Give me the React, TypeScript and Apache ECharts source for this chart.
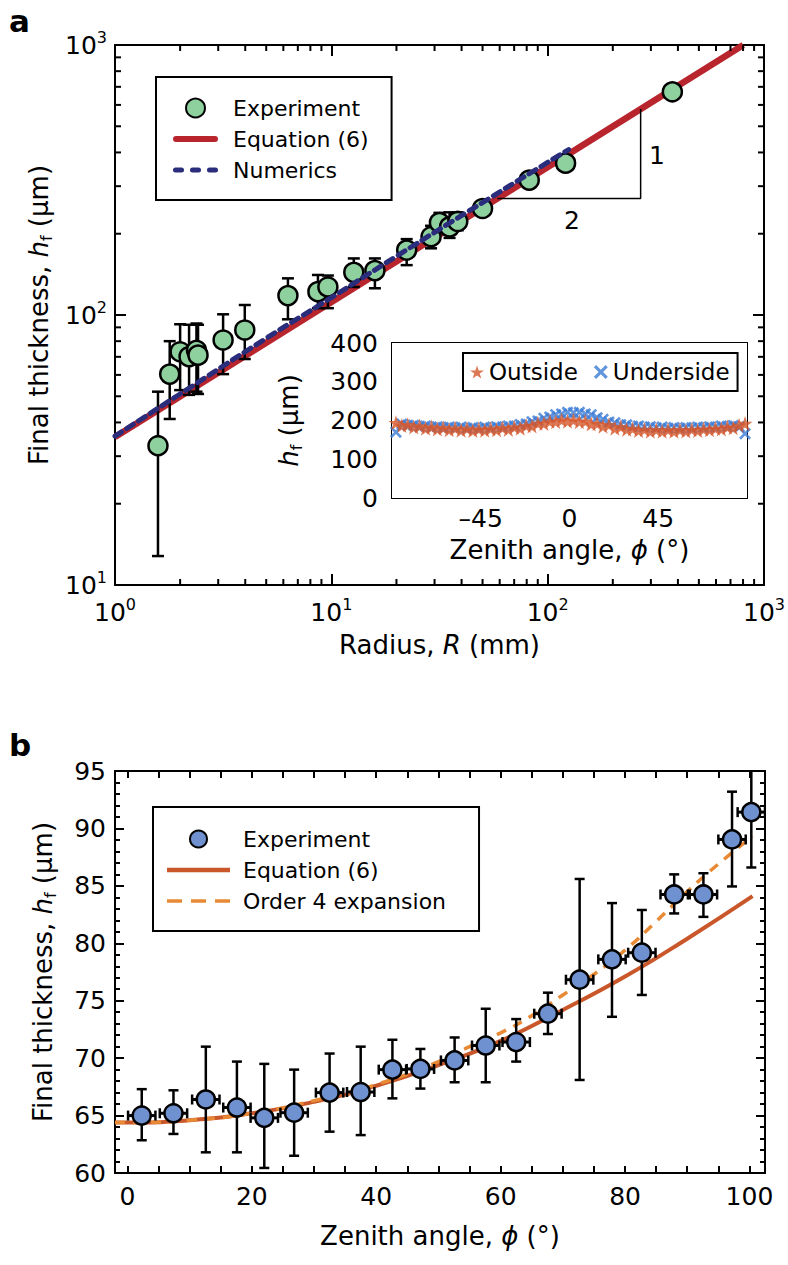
import React, { useEffect, useRef } from "react";
import * as echarts from "echarts";

const FONT = "'DejaVu Sans', 'Liberation Sans', sans-serif";
const BLACK = "#000";

// ---------- Panel a : final thickness vs radius (log-log) ----------
const expR = [1.58, 1.79, 2.0, 2.2, 2.38, 2.42, 3.16, 3.98, 6.3, 8.67, 9.64, 12.7, 15.9, 22.3, 28.9, 31.6, 35.2, 38.4, 50, 82.2, 121, 377];
const expH = [32.8, 60.4, 73.1, 70.1, 74, 71, 80.8, 88, 118, 122, 127, 143.9, 146, 174, 195, 220, 212, 222, 248, 316, 365, 671];
const expLo = [12.8, 41.2, 52.7, 50.6, 52, 51, 60.4, 68.7, 96.4, 106, 106, 127, 125.6, 153, 176.6, 204, 193, 206, 240, null, null, null];
const expHi = [52, 80, 92.4, 92, 93, 92, 100.6, 108.9, 136.7, 140.7, 140, 162, 162, 191, 214, 239, 240, 240, 258, null, null, null];

const eqR = [1, 802];
const eqH = [35.3, 1000];

const numR = [1, 2, 5, 10, 20, 50, 125];
const numH = [35.6, 51, 82, 116, 165, 261, 410];

const triR = [58.5, 269, 269];
const triH = [270, 270, 579];

const logMinorX = [2, 3, 4, 5, 6, 7, 8, 9, 20, 30, 40, 50, 60, 70, 80, 90, 200, 300, 400, 500, 600, 700, 800, 900];
const logMinorY = [20, 30, 40, 50, 60, 70, 80, 90, 200, 300, 400, 500, 600, 700, 800, 900];

// ---------- Inset : h_f vs zenith angle ----------
const insetPhi = [-88, -85, -82, -79, -76, -73, -70, -67, -64, -61, -58, -55, -52, -49, -46, -43, -40, -37, -34, -31, -28, -25, -22, -19, -16, -13, -10, -7, -4, -1, 2, 5, 8, 11, 14, 17, 20, 23, 26, 29, 32, 35, 38, 41, 44, 47, 50, 53, 56, 59, 62, 65, 68, 71, 74, 77, 80, 83, 86, 89];
const outsideH = [194, 187, 189, 183, 186, 180, 183, 178, 181, 176, 180, 175, 179, 174, 178, 175, 179, 176, 181, 177, 183, 180, 187, 186, 193, 192, 198, 197, 201, 198, 201, 197, 198, 191, 192, 185, 189, 180, 184, 177, 179, 174, 177, 172, 176, 172, 176, 172, 176, 173, 177, 174, 178, 176, 180, 178, 183, 181, 188, 192];
const undersideH = [170, 191, 188, 188, 185, 186, 183, 184, 182, 183, 181, 183, 180, 182, 180, 183, 181, 184, 183, 186, 186, 190, 191, 197, 199, 206, 209, 215, 217, 221, 220, 221, 217, 215, 207, 203, 196, 194, 189, 189, 185, 186, 183, 184, 181, 183, 180, 182, 180, 182, 181, 183, 182, 184, 183, 186, 185, 187, 184, 166];

// ---------- Panel b : h_f vs zenith angle ----------
const phiB = [2.3, 7.4, 12.6, 17.6, 22.0, 26.8, 32.5, 37.5, 42.6, 47.1, 52.6, 57.6, 62.5, 67.6, 72.7, 77.9, 82.7, 87.9, 92.6, 97.2, 100.3];
const hB = [65.0, 65.2, 66.4, 65.7, 64.8, 65.25, 67.0, 67.05, 69.0, 69.06, 69.8, 71.1, 71.4, 73.87, 76.83, 78.6, 79.18, 84.25, 84.25, 89.04, 91.42];
const hBLo = [62.85, 63.4, 61.8, 61.8, 60.44, 61.5, 63.6, 63.3, 66.5, 67.35, 67.9, 67.9, 69.7, 72.1, 68.1, 73.6, 75.5, 82.6, 82.3, 84.95, 86.6];
const hBHi = [67.3, 67.2, 71.0, 69.7, 69.5, 69.0, 70.4, 71.0, 71.6, 70.8, 71.8, 74.3, 73.4, 75.7, 85.6, 83.5, 82.9, 86.0, 86.1, 93.2, 95.1];
const phiBErr = [2.2, 2.2, 2.2, 2.2, 2.2, 2.2, 2.2, 2.2, 2.2, 2.2, 2.2, 2.2, 2.2, 2.2, 2.2, 2.2, 2.2, 2.2, 2.2, 2.2, 2.2];

const eqPhi = [-2, 0, 10, 20, 30, 40, 50, 60, 70, 80, 90, 100.5];
const eqHb = [64.4, 64.4, 64.6, 65.2, 66.2, 67.6, 69.4, 71.5, 74.2, 77.1, 80.4, 84.1];

const ordPhi = [-2, 0, 10, 20, 30, 40, 50, 55, 60, 65, 70, 75, 80, 85, 90, 95, 100.5];
const ordHb = [64.4, 64.4, 64.6, 65.2, 66.3, 67.7, 69.7, 71.0, 72.2, 73.7, 75.5, 77.3, 79.4, 81.9, 84.5, 86.9, 89.3];

const xTicksB = [0, 5, 10, 15, 20, 25, 30, 35, 40, 45, 50, 55, 60, 65, 70, 75, 80, 85, 90, 95, 100];
const xLabelsB = [0, 20, 40, 60, 80, 100];

// ---------- styling ----------
const GREEN = "#8fd19e";
const RED = "#b8252d";
const NAVY = "#2a2c7c";
const ORANGE_STAR = "#d4562b";
const BLUE_X = "#3a7bd5";
const BLUE_PT = "#7091d0";
const EQ_B = "#c9572a";
const ORD_B = "#e88a35";

const STAR = "path://M50,0 L61.8,35.4 L99,35.4 L69,57.3 L80.4,92.7 L50,70.8 L19.6,92.7 L31,57.3 L1,35.4 L38.2,35.4 Z";
const CROSS = "path://M0,1.6 L1.6,0 L5,3.4 L8.4,0 L10,1.6 L6.6,5 L10,8.4 L8.4,10 L5,6.6 L1.6,10 L0,8.4 L3.4,5 Z";

// legend icons (line samples)
const ICON_THICK = "path://M3,0 L42,0 A3,3 0 0 1 42,6 L3,6 A3,3 0 0 1 3,0 Z";
const ICON_DOTS =
  "path://M2.5,0 L8.5,0 A2.5,2.5 0 0 1 8.5,5 L2.5,5 A2.5,2.5 0 0 1 2.5,0 Z " +
  "M19.5,0 L25.5,0 A2.5,2.5 0 0 1 25.5,5 L19.5,5 A2.5,2.5 0 0 1 19.5,0 Z " +
  "M36.5,0 L42.5,0 A2.5,2.5 0 0 1 42.5,5 L36.5,5 A2.5,2.5 0 0 1 36.5,0 Z";
const ICON_SOLID_B = "path://M0,0 L63,0 L63,4.5 L0,4.5 Z";
const ICON_DASH_B = "path://M0,0 L15,0 L15,3.5 L0,3.5 Z M24,0 L39,0 L39,3.5 L24,3.5 Z M48,0 L63,0 L63,3.5 L48,3.5 Z";

const TICK_FS = 25;
const NAME_FS = 26;
const tickLabelStyle = { color: BLACK, fontFamily: FONT, fontSize: TICK_FS };
const nameRich = {
  i: { fontStyle: "italic", fontSize: NAME_FS, lineHeight: 30, fontFamily: FONT, color: BLACK },
  sub: { fontSize: 16, lineHeight: 16, verticalAlign: "bottom", fontFamily: FONT, color: BLACK },
};
const nameStyle = { color: BLACK, fontFamily: FONT, fontSize: NAME_FS, lineHeight: 30, rich: nameRich };
const logRich = {
  b: { fontSize: TICK_FS, lineHeight: 32, fontFamily: FONT, color: BLACK },
  s: { fontSize: 16, lineHeight: 16, verticalAlign: "top", fontFamily: FONT, color: BLACK },
};

function axisBase(extra: any) {
  const { axisTick, axisLabel, ...rest } = extra;
  return {
    splitLine: { show: false },
    axisLine: { show: true, onZero: false, lineStyle: { color: BLACK, width: 2 } },
    axisTick: { show: true, inside: true, length: 9, lineStyle: { color: BLACK, width: 2 }, ...(axisTick || {}) },
    axisLabel: { ...tickLabelStyle, ...(axisLabel || {}) },
    ...rest,
  };
}

function tickXRender(len: number) {
  return (params: any, api: any) => {
    const cs = params.coordSys;
    const px = api.coord([api.value(0), api.value(1)])[0];
    const st = { stroke: BLACK, lineWidth: 2 };
    return {
      type: "group",
      children: [
        { type: "line", shape: { x1: px, y1: cs.y + cs.height, x2: px, y2: cs.y + cs.height - len }, style: st },
        { type: "line", shape: { x1: px, y1: cs.y, x2: px, y2: cs.y + len }, style: st },
      ],
    };
  };
}
function tickYRender(len: number) {
  return (params: any, api: any) => {
    const cs = params.coordSys;
    const py = api.coord([api.value(0), api.value(1)])[1];
    const st = { stroke: BLACK, lineWidth: 2 };
    return {
      type: "group",
      children: [
        { type: "line", shape: { x1: cs.x, y1: py, x2: cs.x + len, y2: py }, style: st },
        { type: "line", shape: { x1: cs.x + cs.width, y1: py, x2: cs.x + cs.width - len, y2: py }, style: st },
      ],
    };
  };
}

function errRenderA(params: any, api: any) {
  const x = api.value(0);
  const pLo = api.coord([x, api.value(1)]);
  const pHi = api.coord([x, api.value(2)]);
  const w = 6;
  const st = { stroke: BLACK, lineWidth: 2.5 };
  return {
    type: "group",
    children: [
      { type: "line", shape: { x1: pLo[0], y1: pLo[1], x2: pHi[0], y2: pHi[1] }, style: st },
      { type: "line", shape: { x1: pLo[0] - w, y1: pLo[1], x2: pLo[0] + w, y2: pLo[1] }, style: st },
      { type: "line", shape: { x1: pHi[0] - w, y1: pHi[1], x2: pHi[0] + w, y2: pHi[1] }, style: st },
    ],
  };
}

function errRenderB(params: any, api: any) {
  const x = api.value(0);
  const y = api.value(5);
  const pLo = api.coord([x, api.value(1)]);
  const pHi = api.coord([x, api.value(2)]);
  const pL = api.coord([api.value(3), y]);
  const pR = api.coord([api.value(4), y]);
  const w = 5;
  const st = { stroke: BLACK, lineWidth: 2.5 };
  return {
    type: "group",
    children: [
      { type: "line", shape: { x1: pLo[0], y1: pLo[1], x2: pHi[0], y2: pHi[1] }, style: st },
      { type: "line", shape: { x1: pLo[0] - w, y1: pLo[1], x2: pLo[0] + w, y2: pLo[1] }, style: st },
      { type: "line", shape: { x1: pHi[0] - w, y1: pHi[1], x2: pHi[0] + w, y2: pHi[1] }, style: st },
      { type: "line", shape: { x1: pL[0], y1: pL[1], x2: pR[0], y2: pR[1] }, style: { stroke: BLACK, lineWidth: 3 } },
      { type: "line", shape: { x1: pL[0], y1: pL[1] - w, x2: pL[0], y2: pL[1] + w }, style: st },
      { type: "line", shape: { x1: pR[0], y1: pR[1] - w, x2: pR[0], y2: pR[1] + w }, style: st },
    ],
  };
}

function buildOption(): any {
  const logLabel = (v: number) => `{b|10}{s|${Math.round(Math.log10(v))}}`;
  const legendText = (n: string) => n.replace(" (b)", "");

  const errA = expR
    .map((r, i) => [r, expLo[i], expHi[i]])
    .filter((d) => d[1] != null && d[2] != null);
  const errB = phiB.map((p, i) => [p, hBLo[i], hBHi[i], p - phiBErr[i], p + phiBErr[i], hB[i]]);

  return {
    animation: false,
    backgroundColor: "#fff",
    textStyle: { fontFamily: FONT },
    grid: [
      { left: 115, top: 45, width: 650, height: 540 },
      { left: 392, top: 343, width: 355, height: 155, show: true, backgroundColor: "#fff", borderWidth: 0, z: 3 },
      { left: 115, top: 771, width: 650, height: 402 },
    ],
    xAxis: [
      axisBase({
        type: "log", logBase: 10, min: 1, max: 1000, gridIndex: 0, position: "bottom",
        axisTick: { length: 11 },
        axisLabel: { formatter: logLabel, rich: logRich, margin: 11 },
        name: "Radius, {i|R} (mm)", nameLocation: "middle", nameGap: 45, nameTextStyle: nameStyle,
      }),
      axisBase({
        type: "log", logBase: 10, min: 1, max: 1000, gridIndex: 0, position: "top",
        axisTick: { length: 11 }, axisLabel: { show: false },
      }),
      axisBase({
        type: "value", min: -90, max: 90, interval: 45, gridIndex: 1, position: "bottom",
        axisTick: { length: 7 },
        axisLabel: { showMinLabel: false, showMaxLabel: false, margin: 8, formatter: (v: number) => (v < 0 ? "\u2013" + -v : String(v)) },
        name: "Zenith angle, {i|\u03d5} (\u00b0)", nameLocation: "middle", nameGap: 37, nameTextStyle: nameStyle,
      }),
      axisBase({
        type: "value", min: -90, max: 90, interval: 45, gridIndex: 1, position: "top",
        axisTick: { length: 7 }, axisLabel: { show: false },
      }),
      axisBase({
        type: "value", min: -2, max: 102.5, gridIndex: 2, position: "bottom",
        axisTick: { length: 7, customValues: xTicksB },
        axisLabel: { customValues: xLabelsB, margin: 11 },
        name: "Zenith angle, {i|\u03d5} (\u00b0)", nameLocation: "middle", nameGap: 48, nameTextStyle: nameStyle,
      }),
      axisBase({
        type: "value", min: -2, max: 102.5, gridIndex: 2, position: "top",
        axisTick: { length: 7, customValues: xTicksB }, axisLabel: { show: false },
      }),
    ],
    yAxis: [
      axisBase({
        type: "log", logBase: 10, min: 10, max: 1000, gridIndex: 0, position: "left",
        axisTick: { length: 11 },
        axisLabel: { formatter: logLabel, rich: logRich, margin: 8 },
        name: "Final thickness, {i|h}{sub|f} (\u03bcm)", nameLocation: "middle", nameGap: 57, nameTextStyle: nameStyle,
      }),
      axisBase({
        type: "log", logBase: 10, min: 10, max: 1000, gridIndex: 0, position: "right",
        axisTick: { length: 11 }, axisLabel: { show: false },
      }),
      axisBase({
        type: "value", min: 0, max: 400, interval: 100, gridIndex: 1, position: "left",
        axisTick: { length: 7 },
        axisLabel: { margin: 14 },
        name: "{i|h}{sub|f} (\u03bcm)", nameLocation: "middle", nameGap: 88, nameTextStyle: nameStyle,
      }),
      axisBase({
        type: "value", min: 0, max: 400, interval: 100, gridIndex: 1, position: "right",
        axisTick: { length: 7 }, axisLabel: { show: false },
      }),
      axisBase({
        type: "value", min: 60, max: 95, interval: 5, gridIndex: 2, position: "left",
        axisTick: { length: 9 },
        minorTick: { show: true, splitNumber: 5, length: 5, lineStyle: { color: BLACK, width: 2 } },
        axisLabel: { margin: 9 },
        name: "Final thickness, {i|h}{sub|f} (\u03bcm)", nameLocation: "middle", nameGap: 57, nameTextStyle: nameStyle,
      }),
      axisBase({
        type: "value", min: 60, max: 95, interval: 5, gridIndex: 2, position: "right",
        axisTick: { length: 9 },
        minorTick: { show: true, splitNumber: 5, length: 5, lineStyle: { color: BLACK, width: 2 } },
        axisLabel: { show: false },
      }),
    ],
    legend: [
      {
        data: [
          { name: "Experiment", icon: "circle" },
          { name: "Equation (6)", icon: ICON_THICK, itemStyle: { color: RED } },
          { name: "Numerics", icon: ICON_DOTS, itemStyle: { color: NAVY } },
        ],
        orient: "vertical", left: 156, top: 77,
        itemWidth: 45, itemHeight: 19, itemGap: 7,
        padding: [19, 23, 18, 17],
        borderColor: BLACK, borderWidth: 2, backgroundColor: "#fff",
        selectedMode: false,
        textStyle: { fontFamily: FONT, fontSize: 22, color: BLACK, lineHeight: 24, padding: [0, 0, 0, 10] },
      },
      {
        data: ["Outside", "Underside"],
        orient: "horizontal", left: 463, top: 353,
        itemWidth: 14, itemHeight: 14, itemGap: 16,
        padding: [7, 8, 7, 7],
        borderColor: BLACK, borderWidth: 2, backgroundColor: "#fff",
        selectedMode: false,
        textStyle: { fontFamily: FONT, fontSize: 23, color: BLACK, lineHeight: 24 },
      },
      {
        data: [
          { name: "Experiment (b)", icon: "circle" },
          { name: "Equation (6) (b)", icon: ICON_SOLID_B, itemStyle: { color: EQ_B } },
          { name: "Order 4 expansion", icon: ICON_DASH_B, itemStyle: { color: ORD_B } },
        ],
        formatter: legendText,
        orient: "vertical", left: 153, top: 807,
        itemWidth: 63, itemHeight: 17, itemGap: 7,
        padding: [20, 33, 18, 14],
        borderColor: BLACK, borderWidth: 2, backgroundColor: "#fff",
        selectedMode: false,
        textStyle: { fontFamily: FONT, fontSize: 22, color: BLACK, lineHeight: 24, padding: [0, 0, 0, 8] },
      },
    ],
    graphic: [
      { type: "text", left: 9, top: 5, style: { text: "a", font: `bold 31px ${FONT}`, fill: BLACK } },
      { type: "text", left: 9, top: 729, style: { text: "b", font: `bold 31px ${FONT}`, fill: BLACK } },
      { type: "text", x: 657, y: 155, style: { text: "1", font: `25px ${FONT}`, fill: BLACK, align: "center", verticalAlign: "middle" } },
      { type: "text", x: 572, y: 220, style: { text: "2", font: `25px ${FONT}`, fill: BLACK, align: "center", verticalAlign: "middle" } },
    ],
    series: [
      // ---- panel a ----
      {
        name: "Equation (6)", type: "line", xAxisIndex: 0, yAxisIndex: 0,
        data: eqR.map((r, i) => [r, eqH[i]]), symbol: "none",
        lineStyle: { color: RED, width: 6.5 }, itemStyle: { color: RED }, z: 2,
      },
      {
        name: "slope", type: "line", xAxisIndex: 0, yAxisIndex: 0,
        data: triR.map((r, i) => [r, triH[i]]), symbol: "none", silent: true,
        lineStyle: { color: BLACK, width: 1.5 }, z: 2,
      },
      {
        name: "errA", type: "custom", xAxisIndex: 0, yAxisIndex: 0,
        data: errA, encode: { x: 0, y: [1, 2] }, renderItem: errRenderA, silent: true, z: 3,
      },
      {
        name: "Experiment", type: "scatter", xAxisIndex: 0, yAxisIndex: 0,
        data: expR.map((r, i) => [r, expH[i]]), symbol: "circle", symbolSize: 19,
        itemStyle: { color: GREEN, borderColor: BLACK, borderWidth: 2.5, opacity: 1 }, z: 4,
      },
      {
        name: "Numerics", type: "line", xAxisIndex: 0, yAxisIndex: 0,
        data: numR.map((r, i) => [r, numH[i]]), symbol: "none", smooth: true,
        lineStyle: { color: NAVY, width: 5, type: [8, 6], cap: "round" }, itemStyle: { color: NAVY }, z: 5,
      },
      {
        name: "ticksXa", type: "custom", xAxisIndex: 0, yAxisIndex: 0, silent: true,
        data: logMinorX.map((v) => [v, 100]), encode: { x: 0, y: 1 }, renderItem: tickXRender(6), z: 6,
      },
      {
        name: "ticksYa", type: "custom", xAxisIndex: 0, yAxisIndex: 0, silent: true,
        data: logMinorY.map((v) => [10, v]), encode: { x: 0, y: 1 }, renderItem: tickYRender(6), z: 6,
      },
      // ---- inset ----
      {
        name: "Underside", type: "scatter", xAxisIndex: 2, yAxisIndex: 2,
        data: insetPhi.map((p, i) => [p, undersideH[i]]), symbol: CROSS, symbolSize: 12,
        itemStyle: { color: BLUE_X }, z: 7,
      },
      {
        name: "Outside", type: "scatter", xAxisIndex: 2, yAxisIndex: 2,
        data: insetPhi.map((p, i) => [p, outsideH[i]]), symbol: STAR, symbolSize: 15,
        itemStyle: { color: ORANGE_STAR }, z: 8,
      },
      // ---- panel b ----
      {
        name: "Equation (6) (b)", type: "line", xAxisIndex: 4, yAxisIndex: 4,
        data: eqPhi.map((p, i) => [p, eqHb[i]]), symbol: "none", smooth: true,
        lineStyle: { color: EQ_B, width: 4 }, itemStyle: { color: EQ_B }, z: 2,
      },
      {
        name: "Order 4 expansion", type: "line", xAxisIndex: 4, yAxisIndex: 4,
        data: ordPhi.map((p, i) => [p, ordHb[i]]), symbol: "none", smooth: true,
        lineStyle: { color: ORD_B, width: 3.5, type: [10, 8] }, itemStyle: { color: ORD_B }, z: 3,
      },
      {
        name: "errB", type: "custom", xAxisIndex: 4, yAxisIndex: 4,
        data: errB, encode: { x: [0, 3, 4], y: [1, 2] }, renderItem: errRenderB, silent: true, z: 4, clip: true,
      },
      {
        name: "Experiment (b)", type: "scatter", xAxisIndex: 4, yAxisIndex: 4,
        data: phiB.map((p, i) => [p, hB[i]]), symbol: "circle", symbolSize: 18,
        itemStyle: { color: BLUE_PT, borderColor: BLACK, borderWidth: 2.5, opacity: 1 }, z: 5,
      },
    ],
  };
}

export default function App() {
  const ref = useRef<HTMLDivElement>(null);
  useEffect(() => {
    const chart = echarts.init(ref.current!, null, { renderer: "svg" });
    chart.setOption(buildOption());
    return () => chart.dispose();
  }, []);
  return (
    <div
      ref={ref}
      style={{ position: "absolute", left: 0, top: 0, width: 788, height: 1265, background: "#fff" }}
    />
  );
}
